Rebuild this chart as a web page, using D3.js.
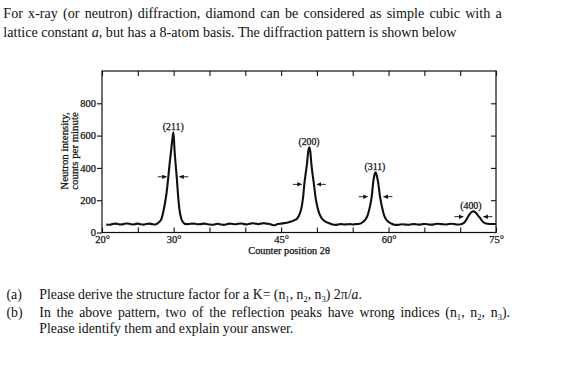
<!DOCTYPE html>
<html>
<head>
<meta charset="utf-8">
<script src="https://cdn.jsdelivr.net/npm/d3@7"></script>
<style>
body { margin: 0; background: #fff; }
text { font-family: "Liberation Serif", "Times New Roman", serif; fill: #111; }
.heavy { stroke: #111; stroke-width: 0.25px; }
</style>
</head>
<body>
<div id="chart"></div>
<script>
// neutron scan: [2theta (deg), counts per minute]
const scan = [
  [20.6,50],[21.0,48],[21.4,52],[21.8,55],[22.2,53],[22.6,50],[23.0,52],[23.4,56],[23.8,54],
  [24.2,50],[24.6,52],[25.0,55],[25.4,51],[25.8,49],[26.2,53],[26.6,55],[27.0,52],[27.4,50],
  [27.9,62],[28.3,85],[28.66,150],[29.0,240],[29.26,345],[29.45,430],[29.63,500],[29.8,570],
  [29.97,620],[30.14,500],[30.28,420],[30.43,345],[30.6,240],[30.79,150],[31.05,88],[31.35,62],
  [31.7,52],[32.2,53],[32.6,55],[33.0,54],[33.4,51],[33.8,52],[34.2,55],[34.6,53],[35.0,50],
  [35.4,48],[35.8,51],[36.2,54],[36.6,50],[37.0,47],[37.4,51],[37.8,55],[38.2,53],[38.6,51],
  [39.0,54],[39.4,56],[39.8,53],[40.2,50],[40.6,54],[41.0,57],[41.4,55],[41.8,52],[42.2,55],
  [42.6,58],[43.0,55],[43.4,53],[43.8,47],[44.1,45],[44.5,52],[45.0,55],[45.4,58],[45.8,60],
  [46.2,65],[46.8,75],[47.26,88],[47.6,115],[47.88,160],[48.1,230],[48.24,298],[48.45,370],
  [48.62,428],[48.8,505],[48.94,528],[49.08,500],[49.22,428],[49.4,360],[49.59,298],[49.8,220],
  [50.06,160],[50.35,115],[50.67,88],[51.2,68],[51.8,56],[52.2,49],[52.6,47],[53.0,50],
  [53.4,52],[53.8,50],[54.2,51],[54.6,52],[55.0,50],[55.4,52],[55.8,53],[56.48,67],[56.8,82],
  [57.09,108],[57.4,160],[57.65,222],[57.87,315],[58.05,360],[58.2,373],[58.35,355],[58.53,315],
  [58.81,222],[59.1,155],[59.37,108],[59.65,82],[59.97,67],[60.4,55],[60.8,48],[61.2,47],
  [61.6,50],[62.0,51],[62.4,49],[62.8,48],[63.2,51],[63.6,52],[64.0,50],[64.4,49],[64.8,52],
  [65.2,53],[65.6,50],[66.0,49],[66.4,51],[66.8,54],[67.2,53],[67.6,51],[68.0,50],[68.4,53],
  [68.8,54],[69.2,52],[69.6,50],[69.9,50],[70.3,54],[70.7,68],[71.0,90],[71.3,112],[71.6,127],
  [71.85,131],[72.1,126],[72.45,108],[72.77,90],[73.1,70],[73.45,58],[73.8,54],[74.2,53],
  [74.6,53],[75.0,53]
];

const peakLabels = ["(211)", "(200)", "(311)", "(400)"];
const peakLabelX = [29.95, 48.9, 58.1, 71.5];
const peakLabelY = [655, 562, 406, 166];
const arrowY = [345, 298, 222, 98];
const arrowLeft = [29.03, 47.89, 57.1, 70.45];
const arrowRight = [30.79, 49.98, 59.28, 73.24];

const xTicks = [20, 25, 30, 35, 40, 45, 50, 55, 60, 65, 70, 75];
const xTickLabels = [20, 30, 45, 60, 75];
const yTicks = [0, 200, 400, 600, 800];
const yInnerTicks = [200, 400, 600, 800];

// text lines, split in runs: [text, kind]  kind: "" | "i" | "sub"
const topLines = [
  [["For x-ray (or neutron) diffraction, diamond can be considered as simple cubic with a", ""]],
  [["lattice constant ", ""], ["a", "i"], [", but has a 8-atom basis. The diffraction pattern is shown below", ""]]
];
const questionLines = [
  [["(a)", ""]],
  [["Please derive the structure factor for a K= (n", ""], ["1", "sub"], [", n", ""], ["2", "sub"], [", n", ""], ["3", "sub"], [") 2\u03c0/", ""], ["a", "i"], [".", ""]],
  [["(b)", ""]],
  [["In the above pattern, two of the reflection peaks have wrong indices (n", ""], ["1", "sub"], [", n", ""], ["2", "sub"], [", n", ""], ["3", "sub"], [").", ""]],
  [["Please identify them and explain your answer.", ""]]
];

const W = 561, H = 378;
const margin = { top: 71, left: 102 };
const width = 394, height = 161.5;

const root = d3.select("#chart").append("svg")
  .attr("width", W).attr("height", H);

const defs = root.append("defs");
defs.append("marker")
  .attr("id", "head")
  .attr("viewBox", "0 0 10 10")
  .attr("refX", 10).attr("refY", 5)
  .attr("markerWidth", 4.5).attr("markerHeight", 4.5)
  .attr("markerUnits", "userSpaceOnUse")
  .attr("orient", "auto")
  .append("path").attr("d", "M0,0L10,5L0,10z").attr("fill", "#111");

function writeLine(x, y, runs, size, justifyTo) {
  const t = root.append("text").attr("x", x).attr("y", y).style("font-size", size + "px");
  let shifted = false;
  runs.forEach(([s, kind]) => {
    const sp = t.append("tspan").text(s);
    if (kind === "i") sp.style("font-style", "italic");
    if (kind === "sub") {
      sp.style("font-size", (size * 0.62) + "px").attr("dy", 3);
      shifted = true;
    } else if (shifted) {
      sp.attr("dy", -3);
      shifted = false;
    }
  });
  if (justifyTo) {
    const len = t.node().getComputedTextLength();
    const spaces = runs.map(r => r[0]).join("").split(" ").length - 1;
    t.style("word-spacing", ((justifyTo - x - len) / spaces) + "px");
  }
  return t;
}

// question text above the chart
writeLine(3.3, 18.3, topLines[0], 14.1, 501.7);
writeLine(3.3, 36.7, topLines[1], 14.1);

// questions below
writeLine(6.5, 299.3, questionLines[0], 13.8);
writeLine(39.3, 299.3, questionLines[1], 13.8);
writeLine(6.5, 316.7, questionLines[2], 13.8);
writeLine(39.3, 316.7, questionLines[3], 13.8, 510);
writeLine(39.3, 333.3, questionLines[4], 13.8);

const svg = root.append("g").attr("transform", `translate(${margin.left},${margin.top})`);

const x = d3.scaleLinear().domain([20, 75]).range([0, width]);
const y = d3.scaleLinear().domain([0, 1000]).range([height, 0]);

const axisFont = "10.5px";

// bottom axis, ticks pointing in
const gx = svg.append("g").attr("transform", `translate(0,${height})`)
  .call(d3.axisBottom(x).tickValues(xTicks).tickSizeInner(-5).tickSizeOuter(0).tickPadding(2.5)
    .tickFormat(d => xTickLabels.includes(d) ? d + "\u00b0" : ""));
svg.append("g")
  .call(d3.axisTop(x).tickValues(xTicks).tickSizeInner(-5).tickSizeOuter(0).tickFormat(""));
const gy = svg.append("g")
  .call(d3.axisLeft(y).tickValues(yTicks).tickSizeInner(5).tickSizeOuter(0).tickPadding(1));
svg.append("g").attr("transform", `translate(${width},0)`)
  .call(d3.axisRight(y).tickValues(yInnerTicks).tickSizeInner(-5).tickSizeOuter(0).tickFormat(""));

svg.selectAll(".domain").remove();
svg.selectAll(".tick line").attr("stroke", "#111").attr("stroke-width", 1.1);
svg.selectAll(".tick text").attr("fill", "#111").attr("class", "heavy")
  .style("font-family", "'Liberation Serif', serif").style("font-size", axisFont);
gx.selectAll(".tick text").attr("dy", "0.75em");

svg.append("rect")
  .attr("width", width).attr("height", height)
  .attr("fill", "none").attr("stroke", "#111").attr("stroke-width", 1.2);

// the scan
const line = d3.line()
  .x(d => x(d[0]))
  .y(d => y(d[1]))
  .curve(d3.curveMonotoneX);

svg.append("path")
  .datum(scan)
  .attr("d", line)
  .attr("fill", "none")
  .attr("stroke", "#111")
  .attr("stroke-width", 2.1)
  .attr("stroke-linejoin", "round");

// half-width arrows
peakLabels.forEach((lab, i) => {
  const yy = y(arrowY[i]);
  svg.append("line")
    .attr("x1", x(arrowLeft[i]) - 9).attr("x2", x(arrowLeft[i]))
    .attr("y1", yy).attr("y2", yy)
    .attr("stroke", "#111").attr("stroke-width", 0.9)
    .attr("marker-end", "url(#head)");
  svg.append("line")
    .attr("x1", x(arrowRight[i]) + 9).attr("x2", x(arrowRight[i]))
    .attr("y1", yy).attr("y2", yy)
    .attr("stroke", "#111").attr("stroke-width", 0.9)
    .attr("marker-end", "url(#head)");
  svg.append("text")
    .attr("class", "heavy")
    .attr("x", x(peakLabelX[i]))
    .attr("y", y(peakLabelY[i]))
    .attr("text-anchor", "middle")
    .attr("dominant-baseline", "central")
    .style("font-size", "9.8px")
    .text(lab);
});

// axis titles
svg.append("text")
  .attr("class", "heavy")
  .attr("x", x(45) + 8).attr("y", height + 21.5)
  .attr("text-anchor", "middle")
  .style("font-size", "10.3px")
  .text("Counter position 2\u03b8");

const ylab = svg.append("text")
  .attr("class", "heavy")
  .attr("transform", `translate(${64 - margin.left},${151 - margin.top}) rotate(-90)`)
  .attr("text-anchor", "middle")
  .style("font-size", "10.8px");
ylab.append("tspan").attr("x", 0).attr("dy", "0.35em").text("Neutron intensity,");
ylab.append("tspan").attr("x", 0).attr("dy", "0.9em").text("counts per minute");
</script>
</body>
</html>
